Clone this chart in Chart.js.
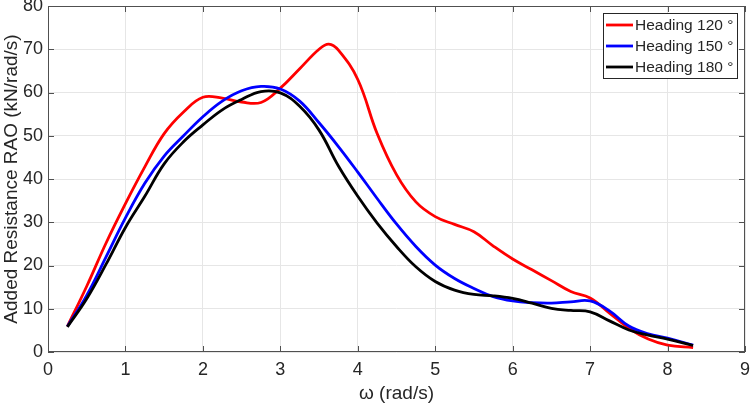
<!DOCTYPE html>
<html>
<head>
<meta charset="utf-8">
<script src="https://cdn.jsdelivr.net/npm/chart.js@4.4.1/dist/chart.umd.min.js"></script>
<style>
  html, body { margin: 0; padding: 0; background: #fff; }
  #wrap { width: 750px; height: 405px; }
</style>
</head>
<body>
<div id="wrap"><canvas id="chart"></canvas></div>
<script>
// frequency (rad/s); 3.625 only carries the red peak
const omega = [0.25, 0.5, 0.75, 1.0, 1.25, 1.5, 1.75, 2.0, 2.25, 2.5, 2.75, 3.0, 3.25, 3.5, 3.625,
  3.75, 4.0, 4.25, 4.5, 4.75, 5.0, 5.25, 5.5, 5.75, 6.0, 6.25, 6.5, 6.75, 7.0, 7.25, 7.5, 7.75, 8.0, 8.33];

const heading120 = [5.9, 15.2, 25.2, 34.3, 42.8, 50.5, 55.5, 58.9, 58.7, 57.8, 57.7, 61, 65.5, 70, 71.2,
  69.8, 63, 50.5, 41, 34.7, 31.3, 29.5, 27.8, 24.5, 21.5, 19, 16.5, 14, 12.5, 9, 5.5, 3, 1.6, 1.0];
const heading150 = [5.9, 13.1, 22, 31, 39, 45.3, 50, 54.4, 58, 60.4, 61.4, 60.8, 58, 53, null,
  47.5, 41.6, 35.5, 29.6, 24.4, 20.1, 17, 14.7, 12.8, 11.8, 11.4, 11.3, 11.6, 11.8, 9.5, 6, 4.2, 3.2, 1.6];
const heading180 = [5.8, 12.3, 20.3, 28.8, 36, 43.5, 48.6, 52.5, 56, 58.4, 60.2, 59.9, 56.8, 51.3, null,
  43, 36, 29.8, 24.4, 19.7, 16.3, 14.3, 13.3, 13, 12.4, 11.3, 10.1, 9.6, 9.3, 7.2, 5.1, 3.9, 3.0, 1.5];

const seriesLabels = ['Heading 120 °', 'Heading 150 °', 'Heading 180 °'];
const seriesColors = ['#ff0000', '#0000ff', '#000000'];
const seriesValues = [heading120, heading150, heading180];

const xTicks = [0, 1, 2, 3, 4, 5, 6, 7, 8, 9];
const yTicks = [0, 10, 20, 30, 40, 50, 60, 70, 80];

const FONT = 'Liberation Sans, Arial, Helvetica, sans-serif';
const AXIS = '#262626';

// box round the axes, inward ticks and the legend, MATLAB style
const matlabAxes = {
  id: 'matlabAxes',
  afterDraw(chart) {
    const { ctx, chartArea: a, scales } = chart;
    ctx.save();
    ctx.strokeStyle = '#505050';
    ctx.lineWidth = 1;
    ctx.strokeRect(a.left + 0.5, a.top + 0.5, a.right - a.left - 1, a.bottom - a.top - 1);
    ctx.beginPath();
    xTicks.forEach(v => {
      const x = Math.round(scales.x.getPixelForValue(v)) + 0.5;
      ctx.moveTo(x, a.bottom); ctx.lineTo(x, a.bottom - 6);
      ctx.moveTo(x, a.top); ctx.lineTo(x, a.top + 6);
    });
    yTicks.forEach(v => {
      const y = Math.round(scales.y.getPixelForValue(v)) + 0.5;
      ctx.moveTo(a.left, y); ctx.lineTo(a.left + 6, y);
      ctx.moveTo(a.right, y); ctx.lineTo(a.right - 6, y);
    });
    ctx.stroke();

    // legend
    const bx = 603, by = 13, bw = 134, bh = 65;
    ctx.fillStyle = '#fff';
    ctx.fillRect(bx, by, bw, bh);
    ctx.strokeStyle = '#262626';
    ctx.strokeRect(bx + 0.5, by + 0.5, bw, bh);
    ctx.font = '15.5px ' + FONT;
    ctx.textBaseline = 'middle';
    chart.data.datasets.forEach((ds, i) => {
      const y = by + 12 + i * 21;
      ctx.strokeStyle = ds.borderColor;
      ctx.lineWidth = 2.8;
      ctx.beginPath();
      ctx.moveTo(bx + 3, y); ctx.lineTo(bx + 30, y);
      ctx.stroke();
      ctx.fillStyle = AXIS;
      ctx.fillText(ds.label, bx + 32, y + 1);
    });
    ctx.restore();
  }
};

new Chart(document.getElementById('chart'), {
  type: 'line',
  data: {
    datasets: seriesValues.map((vals, i) => ({
      label: seriesLabels[i],
      data: omega.map((w, k) => ({ x: w, y: vals[k] })),
      borderColor: seriesColors[i],
      borderWidth: 2.8,
      pointRadius: 0,
      fill: false,
      tension: 0.4,
      spanGaps: true,
      order: 3 - i
    }))
  },
  options: {
    responsive: true,
    maintainAspectRatio: false,
    animation: false,
    layout: { padding: { top: 6, right: 5, left: 0, bottom: 0 } },
    plugins: {
      legend: { display: false },
      tooltip: { enabled: false }
    },
    scales: {
      x: {
        type: 'linear',
        min: 0, max: 9,
        afterFit: s => { s.height = 53; s.paddingRight = 0; },
        afterBuildTicks: s => { s.ticks = xTicks.map(v => ({ value: v })); },
        grid: { color: '#e6e6e6', drawTicks: false },
        border: { display: false },
        ticks: { color: AXIS, font: { family: FONT, size: 18 }, padding: 7, maxRotation: 0 },
        title: { display: true, text: 'ω (rad/s)', color: AXIS, font: { family: FONT, size: 19 }, padding: { top: 0, bottom: 0 } }
      },
      y: {
        min: 0, max: 80,
        afterFit: s => { s.width = 48; s.paddingTop = 0; s.paddingBottom = 0; },
        afterBuildTicks: s => { s.ticks = yTicks.map(v => ({ value: v })); },
        grid: { color: '#e6e6e6', drawTicks: false },
        border: { display: false },
        ticks: { color: AXIS, font: { family: FONT, size: 18 }, padding: 5 },
        title: { display: true, text: 'Added Resistance RAO (kN/rad/s)', color: AXIS, font: { family: FONT, size: 19 }, padding: { bottom: 0, top: 0 } }
      }
    }
  },
  plugins: [matlabAxes]
});
</script>
</body>
</html>
